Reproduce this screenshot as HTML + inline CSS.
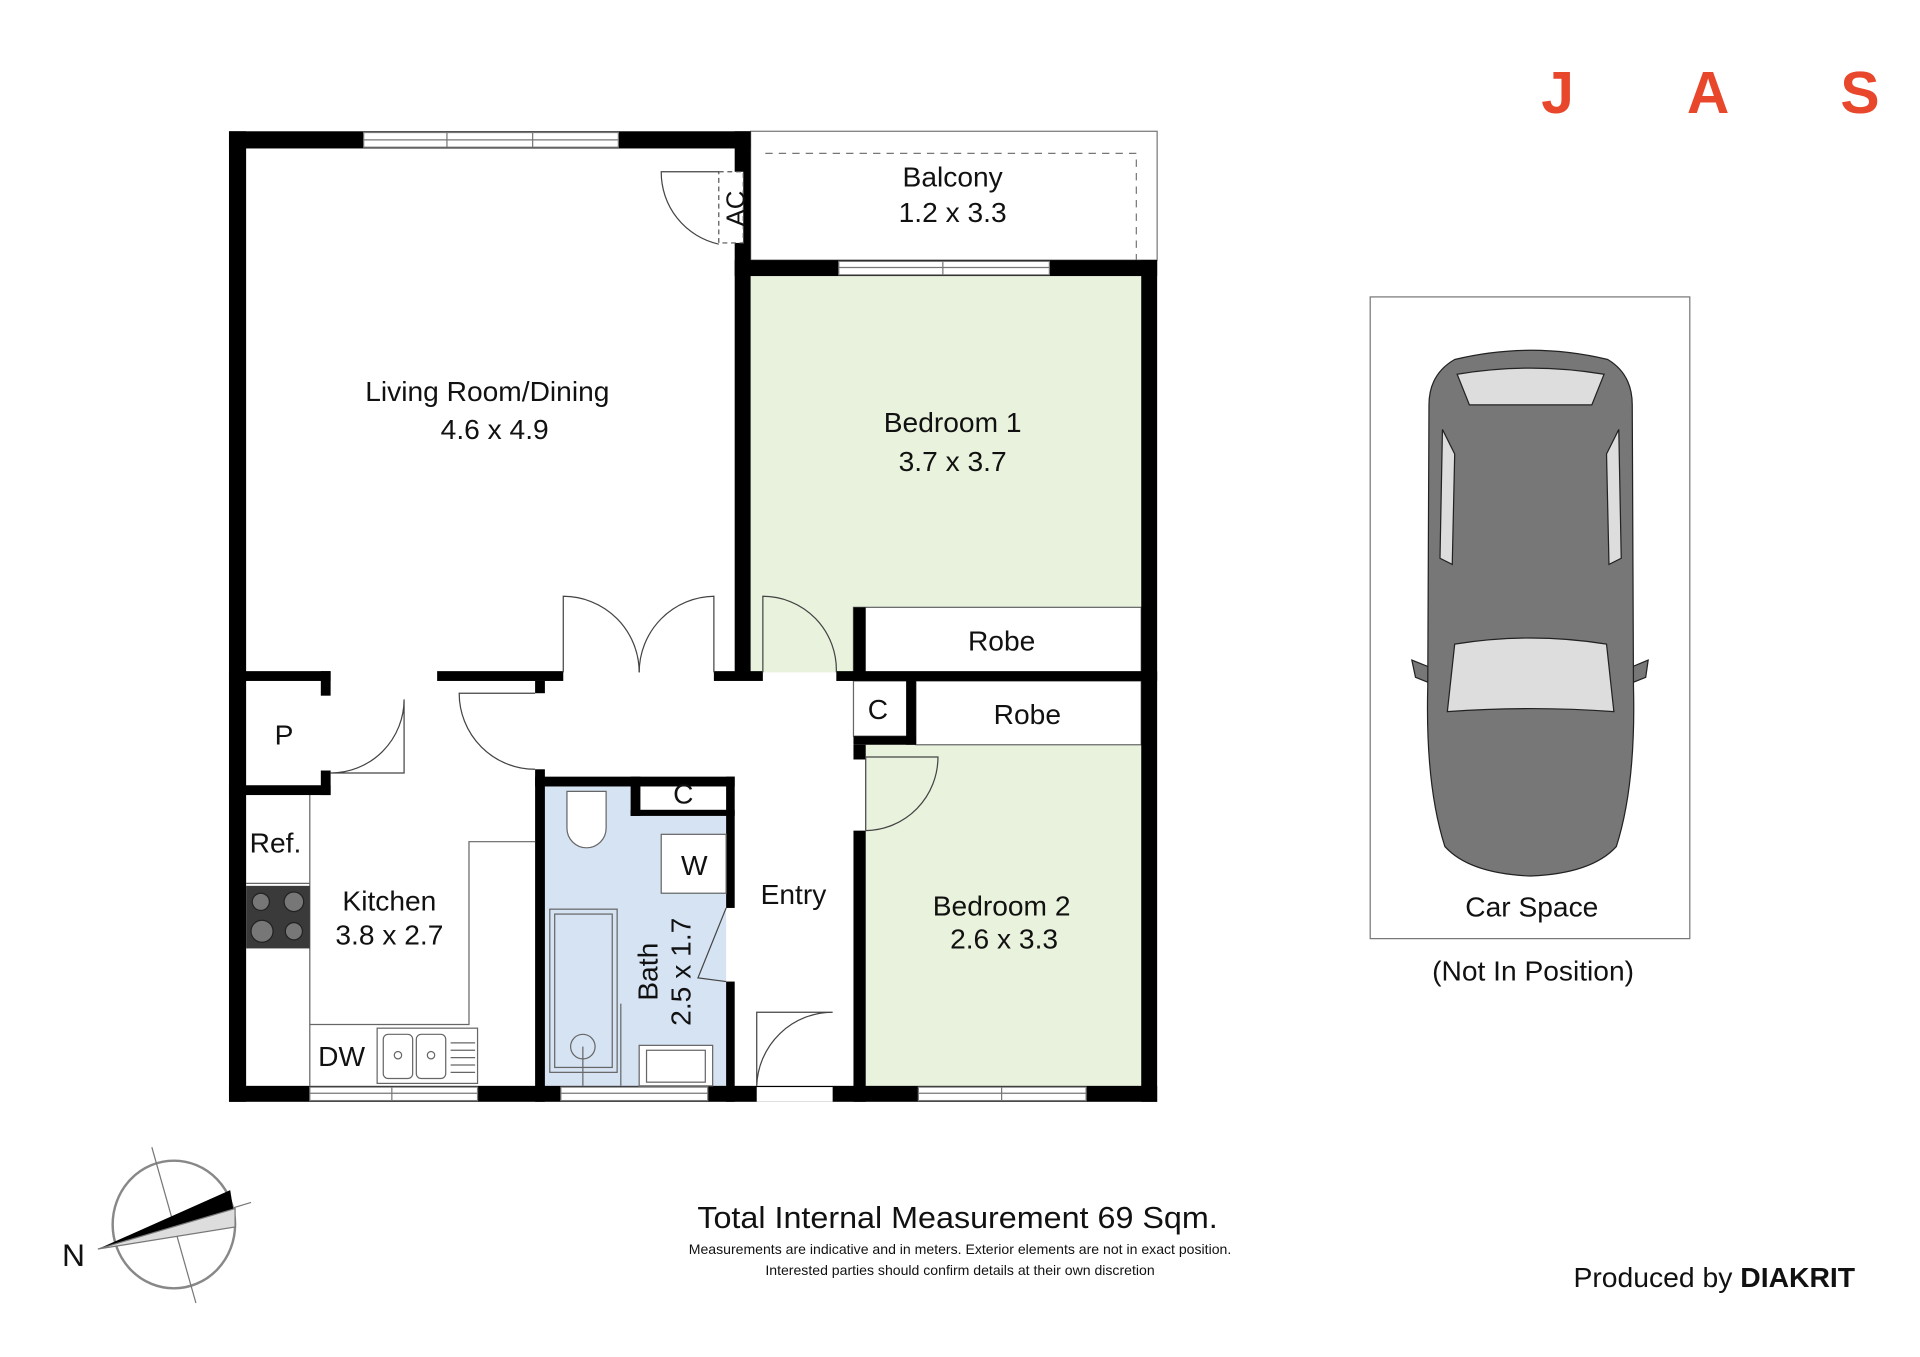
<!DOCTYPE html>
<html><head><meta charset="utf-8"><style>
html,body{margin:0;padding:0;background:#fff;width:1920px;height:1357px;overflow:hidden}
svg{display:block}
text{font-family:"Liberation Sans",sans-serif;fill:#111}
</style></head><body>
<svg width="1920" height="1357" viewBox="0 0 1568 1106" preserveAspectRatio="none" xmlns="http://www.w3.org/2000/svg">
<rect width="1568" height="1106" fill="#fff"/>
<rect x="612" y="225" width="320" height="323" fill="#e9f2dc"/>
<rect x="707" y="607" width="225" height="278" fill="#e9f2dc"/>
<rect x="445" y="641" width="148" height="244" fill="#d6e3f3"/>
<rect x="515" y="641" width="78" height="24" fill="#fff"/>
<rect x="697" y="495" width="235" height="53" fill="#fff" stroke="#666" stroke-width="1"/>
<rect x="748" y="555" width="184" height="52" fill="#fff" stroke="#666" stroke-width="1"/>
<rect x="697" y="555" width="50" height="45" fill="#fff" stroke="#666" stroke-width="1"/>
<rect x="613" y="107" width="332" height="105" fill="none" stroke="#777" stroke-width="1"/>
<path d="M625 125 H928 V212" fill="none" stroke="#777" stroke-width="1" stroke-dasharray="6 5"/>
<g fill="#000">
<rect x="187" y="107" width="14" height="791"/>
<rect x="187" y="107" width="426" height="14"/>
<rect x="600" y="107" width="13" height="441"/>
<rect x="600" y="212" width="345" height="13"/>
<rect x="932" y="212" width="13" height="686"/>
<rect x="187" y="885" width="758" height="13"/>
<rect x="583" y="547" width="40" height="8"/>
<rect x="683" y="547" width="262" height="8"/>
<rect x="697" y="495" width="10" height="53"/>
<rect x="740" y="555" width="8" height="52"/>
<rect x="697" y="600" width="51" height="7"/>
<rect x="697" y="607" width="10" height="12"/>
<rect x="697" y="677" width="10" height="221"/>
<rect x="187" y="547" width="83" height="8"/>
<rect x="262" y="547" width="8" height="20"/>
<rect x="262" y="628" width="8" height="20"/>
<rect x="187" y="640" width="83" height="8"/>
<rect x="357" y="547" width="103" height="8"/>
<rect x="437" y="555" width="8" height="10"/>
<rect x="437" y="627" width="8" height="271"/>
<rect x="437" y="633" width="163" height="8"/>
<rect x="593" y="633" width="7" height="107"/>
<rect x="593" y="800" width="7" height="98"/>
<rect x="515" y="633" width="8" height="32"/>
<rect x="515" y="660" width="85" height="5"/>
</g>
<!-- AC box -->
<rect x="587" y="140" width="20" height="58" fill="#fff" stroke="#555" stroke-dasharray="4 3"/>
<text transform="translate(608 170) rotate(-90)" font-size="21" text-anchor="middle">AC</text>
<g fill="#fff" stroke="#777" stroke-width="1">
<rect x="297" y="108" width="208" height="12"/>
<rect x="685" y="213" width="172" height="11"/>
<rect x="253" y="886" width="137" height="11"/>
<rect x="458" y="886" width="120" height="11"/>
<rect x="750" y="886" width="137" height="11"/>
<rect x="618" y="886" width="62" height="12" stroke="none"/>
</g>
<g stroke="#777" stroke-width="1"><line x1="297" y1="114" x2="505" y2="114"/><line x1="685" y1="218" x2="857" y2="218"/><line x1="253" y1="891" x2="390" y2="891"/><line x1="458" y1="891" x2="578" y2="891"/><line x1="750" y1="891" x2="887" y2="891"/>
<line x1="365" y1="108" x2="365" y2="120"/><line x1="435" y1="108" x2="435" y2="120"/><line x1="770" y1="213" x2="770" y2="224"/><line x1="320" y1="886" x2="320" y2="897"/><line x1="818" y1="886" x2="818" y2="897"/></g>
<g fill="none" stroke="#444" stroke-width="1">
<path d="M587 199 A60 60 0 0 1 540 140 H587"/>
<path d="M460 548 V486 A62 62 0 0 1 522 548"/>
<path d="M583 548 V486 A62 62 0 0 0 522 548"/>
<path d="M623 548 V486 A60 60 0 0 1 683 548"/>
<path d="M270 630 H330 V570 A60 60 0 0 1 270 630"/>
<path d="M437 627 A62 62 0 0 1 375 565 H437"/>
<path d="M707 677 V617 H766 A60 60 0 0 1 707 677"/>
<path d="M618 885 V825 H680 A62 62 0 0 0 618 885"/>
<path d="M593 740 L570 797 L593 800"/>
</g>
<g fill="none" stroke="#666" stroke-width="1">
<line x1="201" y1="720" x2="253" y2="720"/><line x1="253" y1="648" x2="253" y2="885"/>
<path d="M253 835 H383 V686 H437"/>
<rect x="308" y="838" width="82" height="45"/>
<rect x="313" y="843" width="24" height="36" rx="4"/><rect x="340" y="843" width="24" height="36" rx="4"/>
<circle cx="325" cy="860" r="3"/><circle cx="352" cy="860" r="3"/>
<path d="M368 850h20M368 856h20M368 862h20M368 868h20M368 874h20"/>
<rect x="449" y="741" width="55" height="133"/><rect x="453" y="745" width="47" height="125"/>
<circle cx="476" cy="853" r="10"/><line x1="476" y1="853" x2="476" y2="885"/>
<path d="M463 645h32v30a16 16 0 0 1-32 0z" fill="#fff"/>
<rect x="540" y="680" width="53" height="48" fill="#fff"/>
<rect x="522" y="852" width="60" height="33" fill="#fff"/><rect x="528" y="856" width="48" height="26"/>
<line x1="507" y1="818" x2="507" y2="885"/>
</g>
<rect x="201" y="722" width="52" height="51" fill="#3a3a3a"/>
<g fill="#777" stroke="#222"><circle cx="213" cy="735" r="7"/><circle cx="240" cy="735" r="8"/><circle cx="214" cy="759" r="9"/><circle cx="240" cy="759" r="7"/></g>
<g font-size="23" text-anchor="middle">
<text x="778" y="152">Balcony</text><text x="778" y="181">1.2 x 3.3</text>
<text x="398" y="327">Living Room/Dining</text><text x="404" y="358">4.6 x 4.9</text>
<text x="778" y="352">Bedroom 1</text><text x="778" y="384">3.7 x 3.7</text>
<text x="818" y="530">Robe</text><text x="839" y="590">Robe</text>
<text x="717" y="586">C</text><text x="558" y="655">C</text>
<text x="232" y="607">P</text><text x="225" y="695">Ref.</text>
<text x="318" y="742">Kitchen</text><text x="318" y="770">3.8 x 2.7</text>
<text x="567" y="713">W</text><text x="648" y="737">Entry</text>
<text x="818" y="746">Bedroom 2</text><text x="820" y="773">2.6 x 3.3</text>
<text x="279" y="869">DW</text>
<text transform="translate(537 792) rotate(-90)">Bath</text>
<text transform="translate(564 792) rotate(-90)">2.5 x 1.7</text>
<text x="1251" y="747">Car Space</text><text x="1252" y="799">(Not In Position)</text>
</g>
<rect x="1119" y="242" width="261" height="523" fill="none" stroke="#777"/>
<g stroke="#222" stroke-width="1">
<path d="M1153 538 L1178 548 L1176 560 L1156 552Z M1346 538 L1322 548 L1324 560 L1344 552Z" fill="#777"/>
<path d="M1188 293 Q1250 278 1313 293 Q1333 305 1333 330 L1334 560 Q1336 640 1320 690 Q1300 712 1250 714 Q1200 712 1180 690 Q1164 640 1166 560 L1167 330 Q1167 305 1188 293Z" fill="#777"/>
<path d="M1190 305 Q1250 295 1310 305 L1300 330 H1200Z" fill="#ddd"/>
<path d="M1188 525 Q1250 515 1312 525 L1318 580 Q1250 575 1182 580Z" fill="#ddd"/>
<path d="M1178 350 L1188 370 L1186 460 L1176 455Z M1322 350 L1312 370 L1314 460 L1324 455Z" fill="#ddd"/>
</g>
<g font-size="48" font-weight="bold" text-anchor="middle">
<text x="1272" y="92" style="fill:#e8472b">J</text><text x="1395" y="92" style="fill:#e8472b">A</text><text x="1519" y="92" style="fill:#e8472b">S</text>
</g>
<ellipse cx="142" cy="998" rx="50" ry="52" fill="none" stroke="#888" stroke-width="2"/>
<line x1="124" y1="935" x2="160" y2="1062" stroke="#777"/>
<line x1="80" y1="1018" x2="205" y2="980" stroke="#777"/>
<path d="M80 1018 L188 970 L192 995Z" fill="#000"/>
<path d="M80 1018 L192 985 L192 1000Z" fill="#ddd" stroke="#777"/>
<text x="60" y="1032" font-size="26" text-anchor="middle">N</text>
<text x="782" y="1001" font-size="25" text-anchor="middle" textLength="425" lengthAdjust="spacingAndGlyphs">Total Internal Measurement 69 Sqm.</text>
<text x="784" y="1022" font-size="11.5" text-anchor="middle">Measurements are indicative and in meters. Exterior elements are not in exact position.</text>
<text x="784" y="1039" font-size="11.5" text-anchor="middle">Interested parties should confirm details at their own discretion</text>
<text x="1285" y="1049" font-size="23" textLength="230" lengthAdjust="spacingAndGlyphs">Produced by <tspan font-weight="bold">DIAKRIT</tspan></text>
</svg>
</body></html>
